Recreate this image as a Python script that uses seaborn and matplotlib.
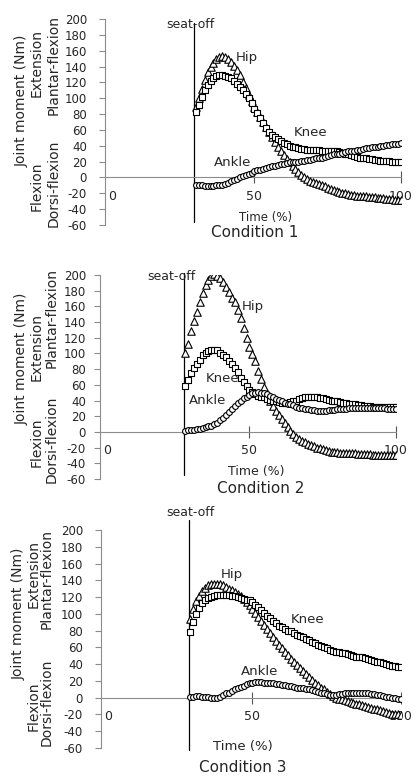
import matplotlib
matplotlib.use('Agg')
import matplotlib.pyplot as plt
import seaborn as sns
import numpy as np

# Joint moments (Nm) during sit-to-stand, sampled every 1 % of the movement

# Condition 1
time1 = np.arange(30, 101)
hip1 = [89, 100, 112, 123, 133, 140, 145, 149, 152, 153,
        152, 150, 146, 141, 136, 129, 121, 113, 104, 96,
        89, 82, 76, 70, 64, 57, 51, 45, 39, 33,
        28, 23, 19, 15, 11, 7, 3, 0, -2, -4,
        -6, -7, -8, -10, -11, -13, -14, -16, -17, -18,
        -19, -20, -21, -22, -22, -23, -23, -24, -24, -25,
        -25, -25, -26, -26, -26, -27, -27, -27, -28, -28,
        -28]
knee1 = [83, 91, 101, 110, 117, 122, 126, 128, 129, 129,
         128, 127, 125, 122, 118, 114, 110, 105, 100, 94,
         87, 81, 75, 69, 63, 58, 54, 51, 48, 46,
         44, 42, 40, 39, 38, 37, 36, 36, 35, 35,
         35, 35, 35, 34, 34, 34, 34, 33, 33, 32,
         31, 30, 29, 28, 27, 26, 25, 24, 24, 23,
         23, 22, 22, 21, 21, 21, 21, 20, 20, 20,
         20]
ankle1 = [-9, -10, -10, -11, -11, -11, -11, -10, -10, -9,
          -8, -7, -5, -3, -2, 0, 2, 3, 5, 6,
          8, 9, 10, 11, 12, 13, 14, 15, 16, 17,
          17, 18, 19, 19, 20, 20, 21, 21, 22, 22,
          23, 24, 25, 25, 26, 27, 28, 29, 30, 30,
          31, 32, 33, 33, 34, 35, 35, 36, 37, 37,
          38, 38, 39, 40, 40, 41, 41, 42, 42, 42,
          43]

# Condition 2
time2 = np.arange(28, 101)
hip2 = [100, 112, 128, 142, 153, 166, 177, 187, 194, 199,
        201, 199, 196, 191, 185, 178, 171, 165, 156, 145,
        133, 120, 108, 99, 90, 78, 67, 57, 48, 40,
        33, 27, 21, 16, 11, 6, 1, -3, -6, -9,
        -11, -13, -15, -17, -18, -20, -21, -22, -23, -24,
        -25, -26, -26, -27, -27, -27, -27, -27, -27, -28,
        -28, -28, -28, -28, -29, -29, -29, -29, -29, -30,
        -30, -30, -30]
knee2 = [58, 66, 75, 81, 86, 92, 98, 101, 103, 105,
         105, 104, 101, 98, 95, 91, 87, 82, 76, 69,
         63, 58, 54, 51, 48, 46, 45, 44, 42, 41,
         40, 39, 38, 37, 37, 37, 38, 39, 40, 42,
         43, 44, 44, 44, 44, 44, 43, 43, 42, 41,
         40, 40, 39, 38, 37, 37, 36, 35, 35, 34,
         34, 33, 33, 33, 32, 32, 32, 32, 32, 32,
         32, 32, 32]
ankle2 = [1, 2, 2, 3, 4, 4, 5, 6, 7, 8,
          10, 12, 15, 18, 21, 25, 29, 33, 37, 40,
          43, 45, 47, 49, 50, 51, 50, 49, 48, 46,
          44, 42, 41, 39, 37, 36, 35, 34, 32, 31,
          30, 29, 29, 28, 28, 27, 27, 27, 27, 28,
          28, 28, 29, 29, 29, 29, 30, 30, 30, 30,
          30, 30, 30, 30, 30, 30, 30, 30, 30, 29,
          29, 29, 29]

# Condition 3
time3 = np.arange(29, 101)
hip3 = [94, 106, 115, 121, 127, 131, 134, 136, 136, 136,
        135, 134, 132, 130, 128, 126, 124, 121, 118, 114,
        110, 106, 101, 96, 91, 87, 82, 77, 72, 68,
        63, 59, 55, 51, 46, 43, 39, 35, 32, 28,
        25, 21, 18, 15, 12, 10, 7, 4, 2, 0,
        -1, -2, -3, -4, -5, -6, -7, -8, -9, -10,
        -11, -12, -13, -14, -15, -16, -17, -18, -19, -20,
        -20, -21]
knee3 = [78, 90, 100, 107, 113, 116, 119, 120, 121, 122,
         122, 122, 122, 122, 121, 121, 120, 119, 118, 117,
         116, 114, 111, 108, 104, 101, 98, 95, 92, 89,
         86, 84, 82, 80, 79, 77, 75, 74, 72, 70,
         69, 67, 65, 63, 62, 60, 59, 57, 56, 55,
         54, 53, 53, 52, 51, 50, 49, 48, 48, 47,
         46, 45, 44, 43, 42, 41, 40, 39, 38, 38,
         37, 37]
ankle3 = [1, 1, 2, 2, 1, 1, 1, 0, 0, 0,
          1, 3, 5, 6, 8, 10, 11, 13, 14, 16,
          17, 18, 19, 19, 19, 18, 18, 17, 17, 16,
          16, 15, 15, 14, 14, 13, 12, 12, 11, 10,
          10, 9, 8, 7, 6, 5, 4, 3, 3, 3,
          4, 4, 5, 6, 6, 6, 6, 5, 5, 5,
          5, 4, 4, 3, 3, 2, 1, 1, 0, 0,
          -1, -1]

seat_off = [29.3, 27.6, 28.7]
conditions = ['Condition 1', 'Condition 2', 'Condition 3']
y_ticks = [200, 180, 160, 140, 120, 100, 80, 60, 40, 20, 0, -20, -40, -60]
x_ticks = [0, 50, 100]

sns.set_style('white')
plt.rcParams['font.family'] = ['DejaVu Sans']
plt.rcParams['axes.unicode_minus'] = False

W, H = 417, 777
fig = plt.figure(figsize=(W / 100, H / 100), dpi=100)

GREY = '#8c8c8c'


def px_rect(l, t, r, b):
    return [l / W, 1 - b / H, (r - l) / W, (b - t) / H]


def fig_text(x, y, s, **kw):
    fig.text(x / W, 1 - y / H, s, ha='center', va='center', **kw)


# layout of each panel (pixel geometry)
layouts = [
    dict(rect=(105, 19, 401, 225), ypad=9,
         seat_span=(0.015, 0.98), seat_lbl=(28, 193),
         lbl_hip=(47.5, 151), lbl_knee=(69.3, 57), lbl_ankle=(42.5, 19),
         time_xy=(266, 217), cond_xy=(255, 233), time_fs=8.5,
         ylab=[(21.7, 101), (36.7, 186), (36.7, 63), (53.3, 183), (53.3, 65)]),
    dict(rect=(100, 275, 396, 479), ypad=6,
         seat_span=(0.019, 1.008), seat_lbl=(23.5, 198),
         lbl_hip=(51, 160), lbl_knee=(40.7, 68), lbl_ankle=(35.6, 40),
         time_xy=(256, 471.7), cond_xy=(261, 488.3), time_fs=9,
         ylab=[(21.7, 359), (36.7, 442), (36.7, 347), (51.7, 439), (51.7, 318)]),
    dict(rect=(101, 530, 401, 748), ypad=9,
         seat_span=(-0.01, 1.046), seat_lbl=(29.2, 221),
         lbl_hip=(43.2, 147), lbl_knee=(68.7, 93), lbl_ankle=(52.4, 31),
         time_xy=(243, 746.7), cond_xy=(243, 767), time_fs=9.5,
         ylab=[(18.3, 614), (33.3, 706), (33.3, 574), (46.7, 702), (46.7, 579)]),
]

series = [
    (time1, hip1, knee1, ankle1),
    (time2, hip2, knee2, ankle2),
    (time3, hip3, knee3, ankle3),
]

ylab_texts = ['Joint moment (Nm)', 'Flexion', 'Extension',
              'Dorsi-flexion', 'Plantar-flexion']

for i, ((t, hip, knee, ankle), lay) in enumerate(zip(series, layouts)):
    ax = fig.add_axes(px_rect(*lay['rect']))
    ax.set_facecolor('none')

    sns.scatterplot(x=t, y=hip, marker='^', s=5.4 ** 2, color='white',
                    edgecolor='black', linewidth=0.8, ax=ax, legend=False, zorder=3)
    sns.scatterplot(x=t, y=knee, marker='s', s=4.9 ** 2, color='white',
                    edgecolor='black', linewidth=0.8, ax=ax, legend=False, zorder=3)
    sns.scatterplot(x=t, y=ankle, marker='o', s=4.2 ** 2, color='white',
                    edgecolor='black', linewidth=0.8, ax=ax, legend=False, zorder=3)

    ax.set_xlim(-1, 100)
    ax.set_ylim(-60, 200)

    # axes styling
    for side in ['top', 'right']:
        ax.spines[side].set_visible(False)
    ax.spines['left'].set_color(GREY)
    ax.spines['left'].set_linewidth(0.8)
    ax.spines['bottom'].set_position(('data', 0))
    ax.spines['bottom'].set_color(GREY)
    ax.spines['bottom'].set_linewidth(0.8)

    ax.set_yticks(y_ticks)
    ax.tick_params(axis='y', direction='out', length=4, width=0.8,
                   color=GREY, pad=lay['ypad'], labelsize=8.5, left=True)
    ax.set_xticks(x_ticks)
    ax.tick_params(axis='x', direction='inout', length=8, width=0.8,
                   color='#555555', pad=5, labelsize=9, bottom=True)
    ax.xaxis.get_major_ticks()[0].tick1line.set_visible(False)
    ax.get_xticklabels()[0].set_ha('left')
    ax.set_xlabel('')
    ax.set_ylabel('')

    # seat-off marker
    ax.axvline(seat_off[i], ymin=lay['seat_span'][0], ymax=lay['seat_span'][1],
               color='black', linewidth=0.9, clip_on=False, zorder=2)
    ax.text(lay['seat_lbl'][0], lay['seat_lbl'][1], 'seat-off', ha='center',
            va='center', fontsize=9, clip_on=False)

    # curve labels
    ax.text(*lay['lbl_hip'], 'Hip', ha='center', va='center', fontsize=9.5, zorder=4)
    ax.text(*lay['lbl_knee'], 'Knee', ha='center', va='center', fontsize=9.5, zorder=4)
    ax.text(*lay['lbl_ankle'], 'Ankle', ha='center', va='center', fontsize=9.5, zorder=4)

    fig_text(*lay['time_xy'], 'Time (%)', fontsize=lay['time_fs'])
    fig_text(*lay['cond_xy'], conditions[i], fontsize=11)

    for (x, y), s in zip(lay['ylab'], ylab_texts):
        fig_text(x, y, s, rotation=90, fontsize=10)

fig.savefig('out.png', dpi=100)
